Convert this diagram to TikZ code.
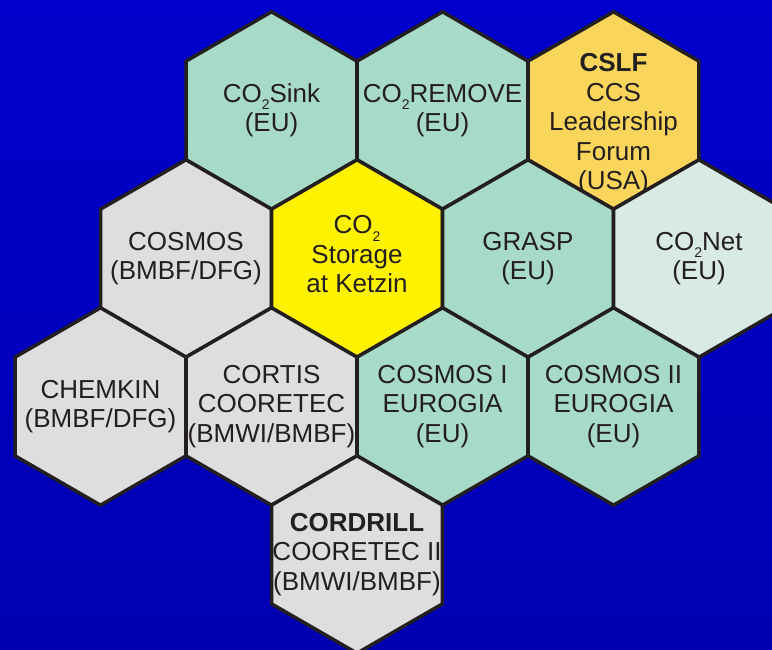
\documentclass[tikz,border=0pt]{standalone}
\usepackage{fontspec}
\setmainfont{Liberation Sans}
\usetikzlibrary{shapes.geometric}
\definecolor{cTeal}{HTML}{A8DBC7}
\definecolor{cGrey}{HTML}{DEDEDE}
\definecolor{cYellow}{HTML}{FFF200}
\definecolor{cGold}{HTML}{F9D65B}
\definecolor{cPale}{HTML}{D8EAE2}
\definecolor{cInk}{HTML}{231F20}
\definecolor{bgTop}{RGB}{0,0,204}
\definecolor{bgMid}{RGB}{0,0,255}
\definecolor{bgBot}{RGB}{0,0,178}
\tikzset{
  hexcell/.style={regular polygon, regular polygon sides=6, shape border rotate=30,
                  minimum size=197.4pt, inner sep=0pt, draw=cInk, line width=3.5pt},
  teal/.style={hexcell, fill=cTeal},
  grey/.style={hexcell, fill=cGrey},
  hot/.style={hexcell, fill=cYellow},
  gold/.style={hexcell, fill=cGold},
  pale/.style={hexcell, fill=cPale},
  txt/.style={align=center, inner sep=0pt, text=cInk,
              font=\fontsize{26}{29.5}\selectfont},
}
\newcommand{\cotwo}{CO\raisebox{-0.28em}{\fontsize{14}{14}\selectfont 2}}

\begin{document}
\begin{tikzpicture}[x=1pt, y=1pt]
    \clip (0,0) rectangle (772,650);
    \shade[top color=bgTop, middle color=bgMid, bottom color=bgBot] (0,0) rectangle (772,650);

    % --- top row ---
    \node[teal] (sink) at (271.5,539.5) {};
    \node[txt] (sink-t) at (sink) {\cotwo Sink\\(EU)};
    \node[teal] (remove) at (442.5,539.5) {};
    \node[txt] (remove-t) at (remove) {\cotwo REMOVE\\(EU)};
    \node[gold] (cslf) at (613.5,539.5) {};
    \node[txt, yshift=-14pt] (cslf-t) at (cslf) {\textbf{CSLF}\\CCS\\Leadership\\Forum\\(USA)};

    % --- second row ---
    \node[grey] (cosmos) at (186,391.5) {};
    \node[txt] (cosmos-t) at (cosmos) {COSMOS\\(BMBF/DFG)};
    \node[hot] (ketzin) at (357,391.5) {};
    \node[txt, yshift=4pt] (ketzin-t) at (ketzin) {\cotwo\\Storage\\at Ketzin};
    \node[teal] (grasp) at (528,391.5) {};
    \node[txt] (grasp-t) at (grasp) {GRASP\\(EU)};
    \node[pale] (conet) at (699,391.5) {};
    \node[txt] (conet-t) at (conet) {\cotwo Net\\(EU)};

    % --- third row ---
    \node[grey] (chemkin) at (100.5,243.5) {};
    \node[txt] (chemkin-t) at (chemkin) {CHEMKIN\\(BMBF/DFG)};
    \node[grey] (cortis) at (271.5,243.5) {};
    \node[txt] (cortis-t) at (cortis) {CORTIS\\COORETEC\\(BMWI/BMBF)};
    \node[teal] (euro1) at (442.5,243.5) {};
    \node[txt] (euro1-t) at (euro1) {COSMOS I\\EUROGIA\\(EU)};
    \node[teal] (euro2) at (613.5,243.5) {};
    \node[txt] (euro2-t) at (euro2) {COSMOS II\\EUROGIA\\(EU)};

    % --- bottom cell ---
    \node[grey] (cordrill) at (357,95.5) {};
    \node[txt] (cordrill-t) at (cordrill) {\textbf{CORDRILL}\\COORETEC II\\(BMWI/BMBF)};
  \end{tikzpicture}
\end{document}
